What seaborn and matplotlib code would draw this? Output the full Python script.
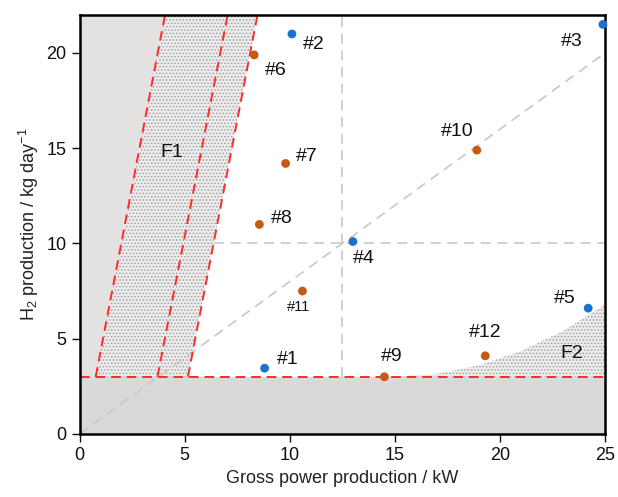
import numpy as np
import pandas as pd
import matplotlib
matplotlib.use('Agg')
import matplotlib.pyplot as plt
import seaborn as sns

sns.set_theme(style='white')
plt.rcParams['font.family'] = ['Liberation Sans', 'DejaVu Sans']
plt.rcParams['mathtext.default'] = 'regular'
plt.rcParams['hatch.linewidth'] = 0.7

# plant data: gross power (kW) vs H2 production (kg/day)
labels = ['#1', '#2', '#3', '#4', '#5', '#6', '#7', '#8', '#9', '#10', '#11', '#12']
power = [8.8, 10.1, 24.9, 13.0, 24.2, 8.3, 9.8, 8.55, 14.5, 18.9, 10.6, 19.3]
h2 = [3.45, 21.0, 21.5, 10.1, 6.6, 19.9, 14.2, 11.0, 3.0, 14.9, 7.5, 4.1]
group = ['a'] * 5 + ['b'] * 7

# F1 boundary lines, x at the bottom (y=3) and top (y=22)
f1_x_bottom = [0.76, 3.7, 5.15]
f1_x_top = [4.06, 7.04, 8.46]
h2_min = 3.0
# F2 upper edge
f2_x = [15.0, 17.0, 19.0, 21.0, 23.0, 25.0]
f2_y = [3.0, 3.15, 3.6, 4.35, 5.4, 6.8]
# reference lines
ref_power = 12.5
ref_h2 = 10.0
ratio_x = [0, 25]
ratio_y = [0, 20]

df = pd.DataFrame({'power': power, 'h2': h2, 'group': group, 'label': labels})

fig = plt.figure(figsize=(6.18, 4.97), dpi=100)
ax = fig.add_axes([0.129, 0.127, 0.85, 0.843])

ymax = 22
yy = np.array([h2_min, ymax])


def edge(i, y):
    return f1_x_bottom[i] + (f1_x_top[i] - f1_x_bottom[i]) * (y - h2_min) / (ymax - h2_min)


# grey infeasible regions
ax.axhspan(0, h2_min, color='#d9d9d9', lw=0, zorder=0)
ax.fill_betweenx(yy, 0, edge(0, yy), color='#e4e1e1', lw=0, zorder=0)
# stippled F1 band
ax.fill_betweenx(yy, edge(0, yy), edge(2, yy), facecolor='#ececec', edgecolor='#a0a0a0',
                 hatch='.....', lw=0, zorder=0)
# stippled F2 region
ax.fill_between(f2_x, h2_min, f2_y, facecolor='#ececec', edgecolor='#a0a0a0',
                hatch='.....', lw=0, zorder=0)

# grey reference lines
gl = dict(color='#c8c8c8', ls=(0, (6, 4)), lw=1.2, zorder=1)
ax.plot([ref_power, ref_power], [h2_min, ymax], **gl)
ax.plot([edge(2, ref_h2), 25], [ref_h2, ref_h2], **gl)
ax.plot(ratio_x, ratio_y, **gl)

# red dashed boundaries
for xb, xt in zip(f1_x_bottom, f1_x_top):
    ax.plot([xb, xt], [h2_min, ymax], color='#ff2a2a', ls=(0, (5, 3)), lw=1.4, zorder=2)
ax.plot([0, 25], [h2_min, h2_min], color='#ff2a2a', ls=(0, (5, 3)), lw=1.4, zorder=2)

sns.scatterplot(data=df, x='power', y='h2', hue='group', palette={'a': '#1a73cf', 'b': '#c55a11'},
                s=40, edgecolor='none', legend=False, ax=ax, zorder=3, clip_on=False)

# point labels
offsets = {'#1': (0.6, 0.45), '#2': (0.5, -0.55), '#3': (-2.0, -0.9), '#4': (0.0, -0.9),
           '#5': (-1.65, 0.5), '#6': (0.5, -0.8), '#7': (0.5, 0.35), '#8': (0.55, 0.3),
           '#9': (-0.15, 1.05), '#10': (-1.7, 1.0), '#11': (-0.75, -0.85), '#12': (-0.8, 1.2)}
for lab, px, py in zip(labels, power, h2):
    dx, dy = offsets[lab]
    fs = 10.5 if lab == '#11' else 14
    ax.text(px + dx, py + dy, lab, fontsize=fs, color='#111111', va='center', zorder=4)
ax.text(4.4, 14.8, 'F1', fontsize=14, color='#111111', ha='center', va='center')
ax.text(23.4, 4.2, 'F2', fontsize=14, color='#111111', ha='center', va='center')

ax.set_xlim(0, 25)
ax.set_ylim(0, ymax)
ax.set_xticks([0, 5, 10, 15, 20, 25])
ax.set_yticks([0, 5, 10, 15, 20])
ax.tick_params(axis='both', direction='out', length=6, width=1.0, labelsize=13,
               bottom=True, left=True, colors='#111111')
for sp in ax.spines.values():
    sp.set_color('black')
    sp.set_linewidth(1.8)
ax.set_xlabel('Gross power production / kW', fontsize=13, color='#222222')
ax.set_ylabel('H$_2$ production / kg day$^{-1}$', fontsize=13, color='#222222')

fig.savefig('out.png', dpi=100)
